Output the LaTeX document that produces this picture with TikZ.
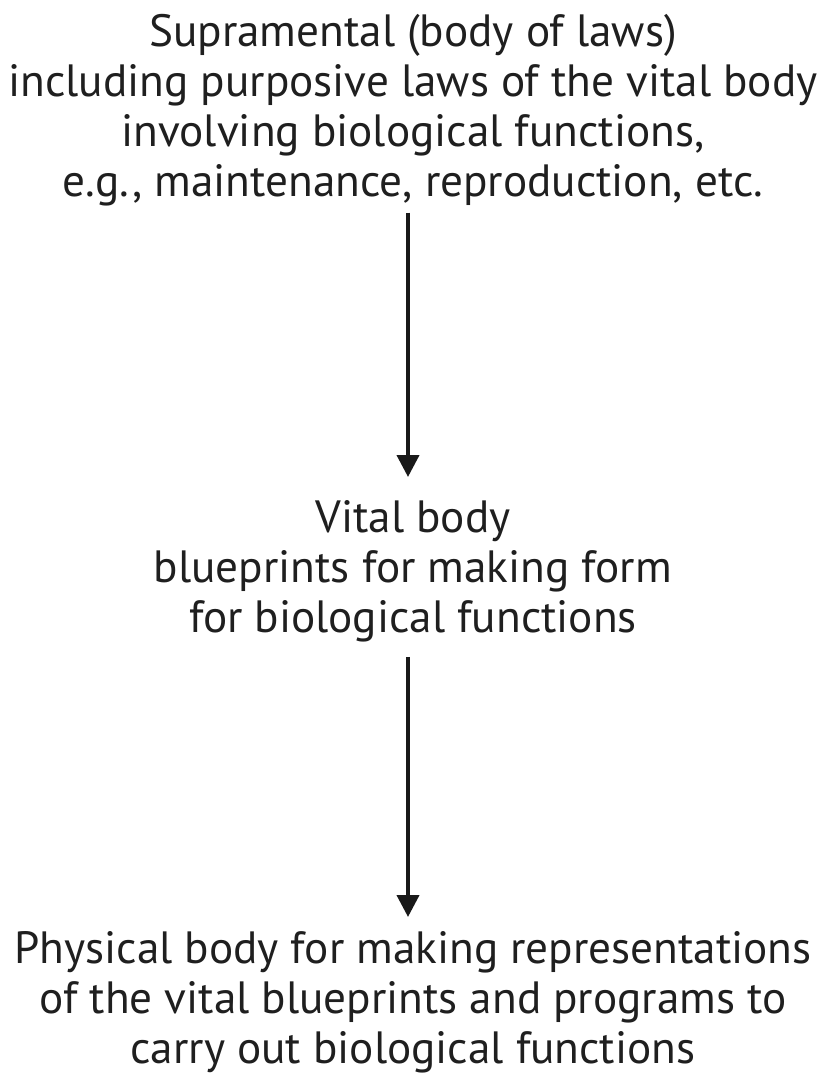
\documentclass[tikz,border=0pt]{standalone}
\usepackage{fontspec}
\setmainfont{PT Sans}
\usetikzlibrary{arrows.meta}

\begin{document}
\begin{tikzpicture}[
    level/.style={align=center, inner sep=0pt, anchor=north, text=black!88,
        font=\fontsize{38.6}{42.6}\selectfont},
    flow/.style={line width=3.4pt, draw=black!90, -{Triangle[length=0.66cm, width=0.66cm]}}]
        \useasboundingbox (0,0) rectangle (24.78,-32.37);
        \node[level] (sup) at (12.39,-0.42) {Supramental (body of laws)\\including purposive laws of the vital body\\involving biological functions,\\e.g., maintenance, reproduction, etc.};
        \node[level] (vit) at (12.39,-15.0) {Vital body\\blueprints for making form\\for biological functions};
        \node[level] (phy) at (12.39,-27.95) {Physical body for making representations\\of the vital blueprints and programs to\\carry out biological functions};
        \draw[flow,shorten <=0.2cm]([xshift=-0.15cm]sup.south)--([xshift=-0.15cm]sup.south|-0,-14.31);
        \draw[flow,shorten <=0.45cm]([xshift=-0.15cm]vit.south)--([xshift=-0.15cm]vit.south|-0,-27.51);
    \end{tikzpicture}
\end{document}
